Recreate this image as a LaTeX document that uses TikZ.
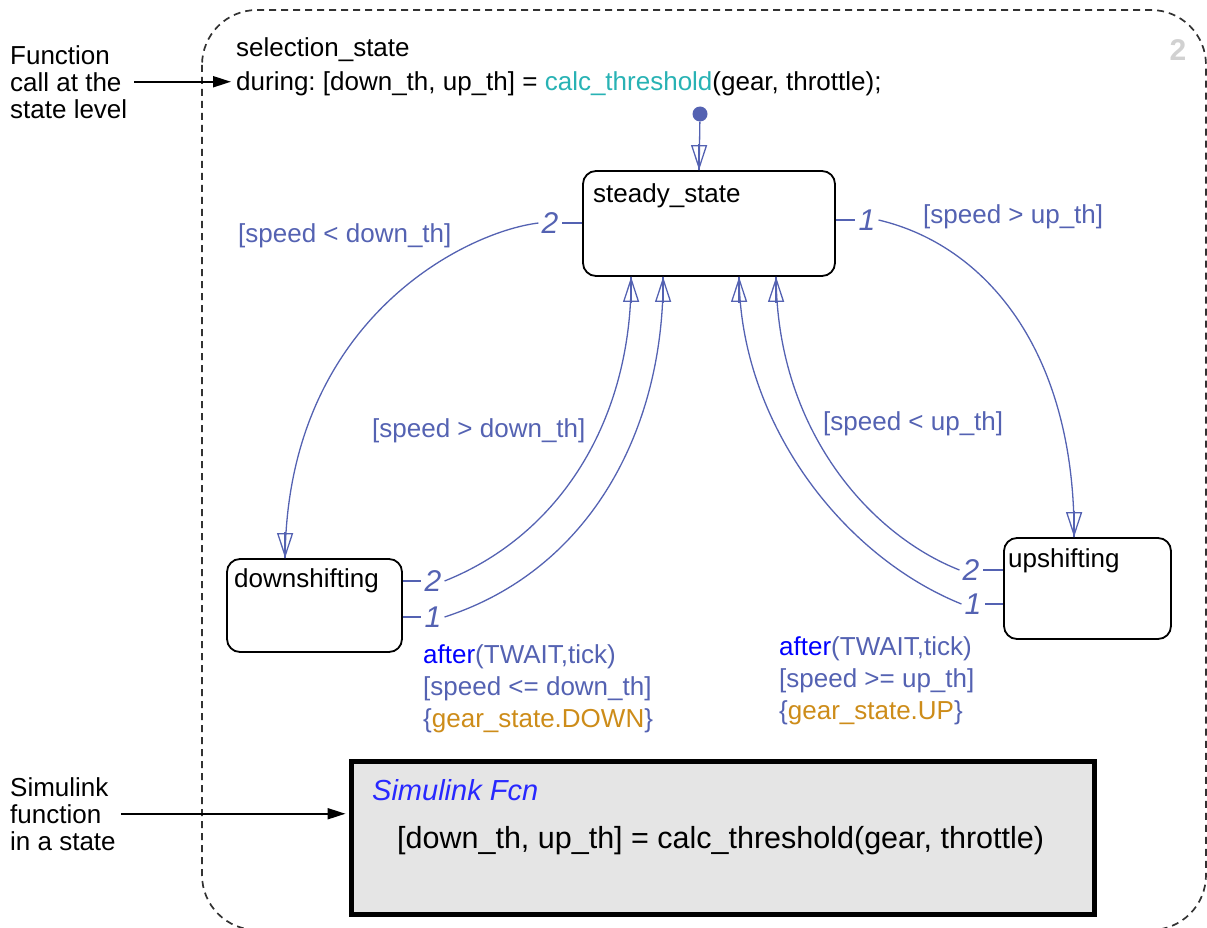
\documentclass[tikz,border=0pt]{standalone}
\usepackage{fontspec}
\setmainfont{Liberation Sans}
\usetikzlibrary{arrows.meta}
\frenchspacing
\definecolor{trc}{RGB}{84,98,178}
\definecolor{tealc}{RGB}{40,178,180}
\definecolor{orc}{RGB}{205,140,25}
\definecolor{aftc}{RGB}{0,0,255}
\definecolor{simc}{RGB}{40,40,255}
\definecolor{boxg}{RGB}{229,229,229}
\definecolor{dashc}{RGB}{50,50,50}
\begin{document}
\begin{tikzpicture}[x=1pt,y=-1pt,
  sftext/.style={font=\fontsize{26}{33}\selectfont, inner sep=0pt},
  cond/.style={sftext, text=trc},
  condblock/.style={font=\fontsize{26}{32}\selectfont, text=trc, align=left, inner sep=0pt, anchor=north west},
  annot/.style={font=\fontsize{26}{27}\selectfont, align=left, inner sep=0pt, anchor=north west},
  annarrow/.style={line width=2pt, -{Triangle[length=18pt,width=11pt]}},
  stateb/.style={draw=black, line width=1.8pt, rounded corners=13pt, inner sep=0pt},
  trans/.style={draw=trc, line width=1.3pt},
  tipst/.style={draw=trc, line width=1.3pt, -{Triangle[open,length=25pt,width=16pt]},
                postaction={draw=trc, line width=1.3pt, arrows=-}},
  numl/.style={font=\fontsize{30}{30}\selectfont\itshape, text=trc, inner sep=3pt}
]
\useasboundingbox (0,0) rectangle (1207,928);
\clip (0,0) rectangle (1207,928);

% outer superstate
\draw[dashc, line width=1.7pt, dash pattern=on 7pt off 5pt, rounded corners=55pt] (202,10) rectangle (1206,930);
\node[font=\fontsize{30}{30}\selectfont\bfseries, text=black!18, inner sep=0pt] (order) at (1178,50) {2};

% superstate label
\node[sftext, anchor=base west] (selname) at (236,57) {selection\_state};
\node[sftext, anchor=base west] (during) at (236,91) {during: [down\_th, up\_th] = \textcolor{tealc}{calc\_threshold}(gear, throttle);};

% annotations
\node[annot] (ann1) at (10,45) {Function\\call at the\\state level};
\node[annot] (ann2) at (10,777) {Simulink\\function\\in a state};

% states
\node[stateb, minimum width=252pt, minimum height=105pt] (ss) at (709,223.5) {};
\node[stateb, minimum width=175pt, minimum height=93pt] (down) at (314.5,605.5) {};
\node[stateb, minimum width=167pt, minimum height=101pt] (up) at (1087.5,588.5) {};
\node[sftext, anchor=base west] (ssn) at (593,203) {steady\_state};
\node[sftext, anchor=base west] (dn) at (234,587) {downshifting};
\node[sftext, anchor=base west] (un) at (1008,567) {upshifting};

% simulink function box
\node[draw=black, line width=5pt, fill=boxg, minimum width=743pt, minimum height=153pt, inner sep=0pt] (sim) at (722.5,837.5) {};
\node[font=\fontsize{29}{29}\selectfont\itshape, text=simc, anchor=base west, inner sep=0pt] (simt) at (372,800) {Simulink Fcn};
\node[font=\fontsize{30.5}{30.5}\selectfont, anchor=base west, inner sep=0pt] (simf) at (397,848) {[down\_th, up\_th] = calc\_threshold(gear, throttle)};

% annotation arrows
\draw[annarrow, shorten <=7pt, shorten >=5pt] (ann1.east) -- (ann1.east -| during.west);
\draw[annarrow, shorten <=5pt, shorten >=3pt] (ann2.east) -- (ann2.east -| sim.west);

% entry points on the states
\coordinate (tInit) at ([xshift=117pt]ss.north west);
\coordinate (tDown) at ([xshift=59pt]down.north west);
\coordinate (tUp) at ([xshift=71pt]up.north west);
\coordinate (tS1) at ([xshift=49pt]ss.south west);
\coordinate (tS2) at ([xshift=81pt]ss.south west);
\coordinate (tS3) at ([xshift=157pt]ss.south west);
\coordinate (tS4) at ([xshift=194pt]ss.south west);

% default transition
\node[circle, fill=trc, inner sep=0pt, minimum size=15pt] (init) at (700,114) {};
\draw[trans] (init) -- (tInit);
\draw[tipst] ([yshift=26pt]tInit) -- (tInit);

% execution order labels
\node[numl] (lss2) at (550,223) {2};
\node[numl] (lss1) at (867,220) {1};
\node[numl] (ld2) at (433,581) {2};
\node[numl] (ld1) at (433,617) {1};
\node[numl] (lu2) at (971,570) {2};
\node[numl] (lu1) at (973,604) {1};

% stubs
\draw[trans] (ss.west |- lss2) -- (lss2.east);
\draw[trans] (ss.east |- lss1) -- (lss1.west);
\draw[trans] (down.east |- ld2) -- (ld2.west);
\draw[trans] (down.east |- ld1) -- (ld1.west);
\draw[trans] (up.west |- lu2) -- (lu2.east);
\draw[trans] (up.west |- lu1) -- (lu1.east);

% transitions
\draw[trans] (lss2.west) .. controls (465,232) and (287,320) .. (tDown);
\draw[tipst] ([yshift=26pt]tDown) -- (tDown);
\draw[trans] (lss1.east) .. controls (985,245) and (1075,350) .. (tUp);
\draw[tipst] ([yshift=26pt]tUp) -- (tUp);
\draw[trans] (ld2.east) .. controls (560,535) and (632,420) .. (tS1);
\draw[tipst] ([yshift=-26pt]tS1) -- (tS1);
\draw[trans] (ld1.east) .. controls (590,570) and (664,430) .. (tS2);
\draw[tipst] ([yshift=-26pt]tS2) -- (tS2);
\draw[trans] (lu1.west) .. controls (840,555) and (740,420) .. (tS3);
\draw[tipst] ([yshift=-26pt]tS3) -- (tS3);
\draw[trans] (lu2.west) .. controls (870,535) and (777,430) .. (tS4);
\draw[tipst] ([yshift=-26pt]tS4) -- (tS4);

% transition conditions
\node[cond, anchor=base west] (c1) at (238,243) {[speed < down\_th]};
\node[cond, anchor=base west] (c2) at (923,223) {[speed > up\_th]};
\node[cond, anchor=base west] (c3) at (372,437) {[speed > down\_th]};
\node[cond, anchor=base west] (c4) at (823,430) {[speed < up\_th]};
\node[condblock] (c5) at (423,644) {\textcolor{aftc}{after}(TWAIT,tick)\\{}[speed <= down\_th]\\\{\textcolor{orc}{gear\_state.DOWN}\}};
\node[condblock] (c6) at (779,636) {\textcolor{aftc}{after}(TWAIT,tick)\\{}[speed >= up\_th]\\\{\textcolor{orc}{gear\_state.UP}\}};
\end{tikzpicture}
\end{document}
